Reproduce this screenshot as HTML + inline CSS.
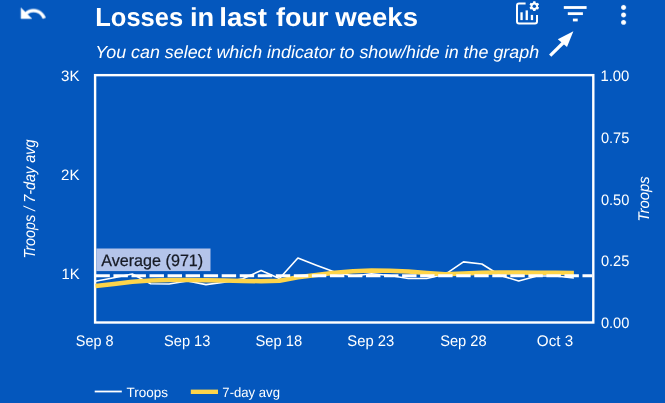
<!DOCTYPE html>
<html><head><meta charset="utf-8"><style>
html,body{margin:0;padding:0;width:665px;height:403px;overflow:hidden;background:#0457bd;}
svg{display:block;will-change:transform;}
text{font-family:"Liberation Sans",sans-serif;fill:#fff;text-rendering:geometricPrecision;}
</style></head><body>
<svg width="665" height="403" viewBox="0 0 665 403">
<rect width="665" height="403" fill="#0457bd"/>
<!-- undo icon -->
<svg x="18.6" y="-0.6" width="28.8" height="28.8" viewBox="0 0 24 24"><path fill="#fff" d="M12.5 8c-2.65 0-5.05.99-6.9 2.6L2 7v9h9l-3.62-3.62c1.39-1.16 3.16-1.88 5.12-1.88 3.54 0 6.55 2.31 7.6 5.5l2.37-.78C21.08 11.03 17.15 8 12.5 8z" stroke="#fff" stroke-width="0.35"/></svg>
<g font-size="26" font-weight="bold">
<text y="26" x="95.24" textLength="87.86" lengthAdjust="spacingAndGlyphs">Losses</text>
<text y="26" x="189.9" textLength="24.26" lengthAdjust="spacingAndGlyphs">in</text>
<text y="26" x="219.27" textLength="47.73" lengthAdjust="spacingAndGlyphs">last</text>
<text y="26" x="276.0" textLength="52.47" lengthAdjust="spacingAndGlyphs">four</text>
<text y="26" x="335.3" textLength="82.74" lengthAdjust="spacingAndGlyphs">weeks</text>
</g>
<text y="58.1" font-size="17.5" font-style="italic" x="95.36" textLength="443.72" lengthAdjust="spacingAndGlyphs">You can select which indicator to show/hide in the graph</text>
<!-- chart settings icon -->
<g fill="none" stroke="#fff" stroke-width="2">
<path d="M525.6,3.6 H519 Q517,3.6 517,5.6 V21.6 Q517,23.6 519,23.6 H535 Q537,23.6 537,21.6 V14.9"/>
</g>
<g fill="#fff">
<rect x="520.4" y="12.3" width="2.3" height="7.8"/>
<rect x="525.6" y="10.4" width="2.3" height="9.7"/>
<rect x="530.8" y="14.9" width="2.3" height="5.2"/>
</g>
<g transform="translate(534.3,6.2)">
<circle r="2.75" fill="none" stroke="#fff" stroke-width="2"/>
<g fill="#fff">
<rect x="-1.25" y="-4.9" width="2.5" height="9.8" rx="0.5"/>
<rect x="-1.25" y="-4.9" width="2.5" height="9.8" rx="0.5" transform="rotate(60)"/>
<rect x="-1.25" y="-4.9" width="2.5" height="9.8" rx="0.5" transform="rotate(120)"/>
</g>
<circle r="1.75" fill="#0457bd"/>
</g>
<!-- filter icon -->
<g fill="#fff">
<rect x="563.8" y="6.1" width="22.8" height="2.8"/>
<rect x="567.8" y="12.25" width="15.1" height="2.8"/>
<rect x="572.9" y="18.6" width="4.8" height="2.8"/>
</g>
<!-- more vert -->
<svg x="608.7" y="-0.04" width="29.8" height="29.8" viewBox="0 0 24 24"><path fill="#fff" d="M12 8c1.1 0 2-.9 2-2s-.9-2-2-2-2 .9-2 2 .9 2 2 2zm0 2c-1.1 0-2 .9-2 2s.9 2 2 2 2-.9 2-2-.9-2-2-2zm0 6c-1.1 0-2 .9-2 2s.9 2 2 2 2-.9 2-2-.9-2-2-2z"/></svg>
<!-- arrow -->
<line x1="550.2" y1="55.6" x2="563" y2="43" stroke="#fff" stroke-width="3.2"/>
<polygon points="573.4,31.3 557.8,39.3 567,46.9" fill="#fff"/>
<!-- plot box -->
<rect x="95.1" y="75.15" width="498.2" height="247.35" fill="none" stroke="#fff" stroke-width="2.4"/>
<!-- left ticks -->
<g font-size="15.0">
<text y="81" x="61.09" textLength="18.47" lengthAdjust="spacingAndGlyphs">3K</text>
<text y="180.1" x="61.09" textLength="18.47" lengthAdjust="spacingAndGlyphs">2K</text>
<text y="279" x="61.41" textLength="18.14" lengthAdjust="spacingAndGlyphs">1K</text>
</g>
<g font-size="15.2">
<text y="81.3" x="600.42" textLength="28.93" lengthAdjust="spacingAndGlyphs">1.00</text>
<text y="143" x="600.9" textLength="28.44" lengthAdjust="spacingAndGlyphs">0.75</text>
<text y="204.7" x="600.9" textLength="28.44" lengthAdjust="spacingAndGlyphs">0.50</text>
<text y="266.4" x="600.9" textLength="28.44" lengthAdjust="spacingAndGlyphs">0.25</text>
<text y="328.1" x="600.9" textLength="28.44" lengthAdjust="spacingAndGlyphs">0.00</text>
</g>
<g font-size="15.4">
<text y="346" x="75.76" textLength="37.76" lengthAdjust="spacingAndGlyphs">Sep 8</text>
<text y="346" x="164.05" textLength="46.29" lengthAdjust="spacingAndGlyphs">Sep 13</text>
<text y="346" x="255.44" textLength="46.71" lengthAdjust="spacingAndGlyphs">Sep 18</text>
<text y="346" x="347.34" textLength="46.91" lengthAdjust="spacingAndGlyphs">Sep 23</text>
<text y="346" x="440.15" textLength="46.39" lengthAdjust="spacingAndGlyphs">Sep 28</text>
<text y="346" x="536.81" textLength="36.36" lengthAdjust="spacingAndGlyphs">Oct 3</text>
</g>
<text transform="translate(34.7,0) rotate(-90)" y="0" font-size="16" font-style="italic" x="-258.6" textLength="119.1" lengthAdjust="spacingAndGlyphs">Troops / 7-day avg</text>
<text transform="translate(649,0) rotate(-90)" y="0" font-size="15.5" font-style="italic" x="-221.56" textLength="45.21" lengthAdjust="spacingAndGlyphs">Troops</text>
<!-- data -->
<polyline points="95.5,281.3 113.9,277.7 132.3,274.0 150.7,283.7 169.1,284.0 187.5,281.0 205.9,284.6 224.3,282.2 242.7,278.8 261.1,270.5 279.5,278.5 297.9,258.0 316.3,265.2 334.7,272.0 353.1,276.0 371.5,273.8 389.9,275.5 408.3,278.5 426.7,278.5 445.1,274.3 463.5,261.9 481.9,264.0 500.3,275.5 518.7,280.9 537.1,276.0 555.5,276.0 573.9,278.0" fill="none" stroke="#fff" stroke-width="1.6" stroke-linejoin="round"/>
<polyline points="95.5,286.0 113.9,284.0 132.3,281.8 150.7,280.6 169.1,280.0 187.5,280.0 205.9,280.3 224.3,280.6 242.7,281.0 261.1,281.2 279.5,280.8 297.9,277.3 316.3,275.0 334.7,272.8 353.1,271.3 371.5,270.6 389.9,270.8 408.3,271.4 426.7,273.0 445.1,274.2 463.5,273.4 481.9,272.7 500.3,272.6 518.7,272.6 537.1,272.7 555.5,272.8 573.9,272.9" fill="none" stroke="#fdd44a" stroke-width="4.5" stroke-linejoin="round"/>
<line x1="95.4" y1="275.7" x2="592.2" y2="275.7" stroke="#fff" stroke-width="3" stroke-dasharray="14.44 3.6"/>
<rect x="96.3" y="248.5" width="114.2" height="22.6" fill="#b4c4ea"/>
<text y="265.9" font-size="16.5" style="fill:#161a24;stroke:#161a24;stroke-width:0.25" x="101.2" textLength="102.04" lengthAdjust="spacingAndGlyphs">Average (971)</text>
<!-- legend -->
<line x1="94.7" y1="391.5" x2="121.8" y2="391.5" stroke="#fff" stroke-width="1.8"/>
<text y="397" font-size="13.6" x="126.5" textLength="41.4" lengthAdjust="spacingAndGlyphs">Troops</text>
<line x1="190.8" y1="391.8" x2="218" y2="391.8" stroke="#fdd44a" stroke-width="4.4"/>
<text y="397" font-size="13.6" x="222.33" textLength="57.64" lengthAdjust="spacingAndGlyphs">7-day avg</text>
</svg>
</body></html>
